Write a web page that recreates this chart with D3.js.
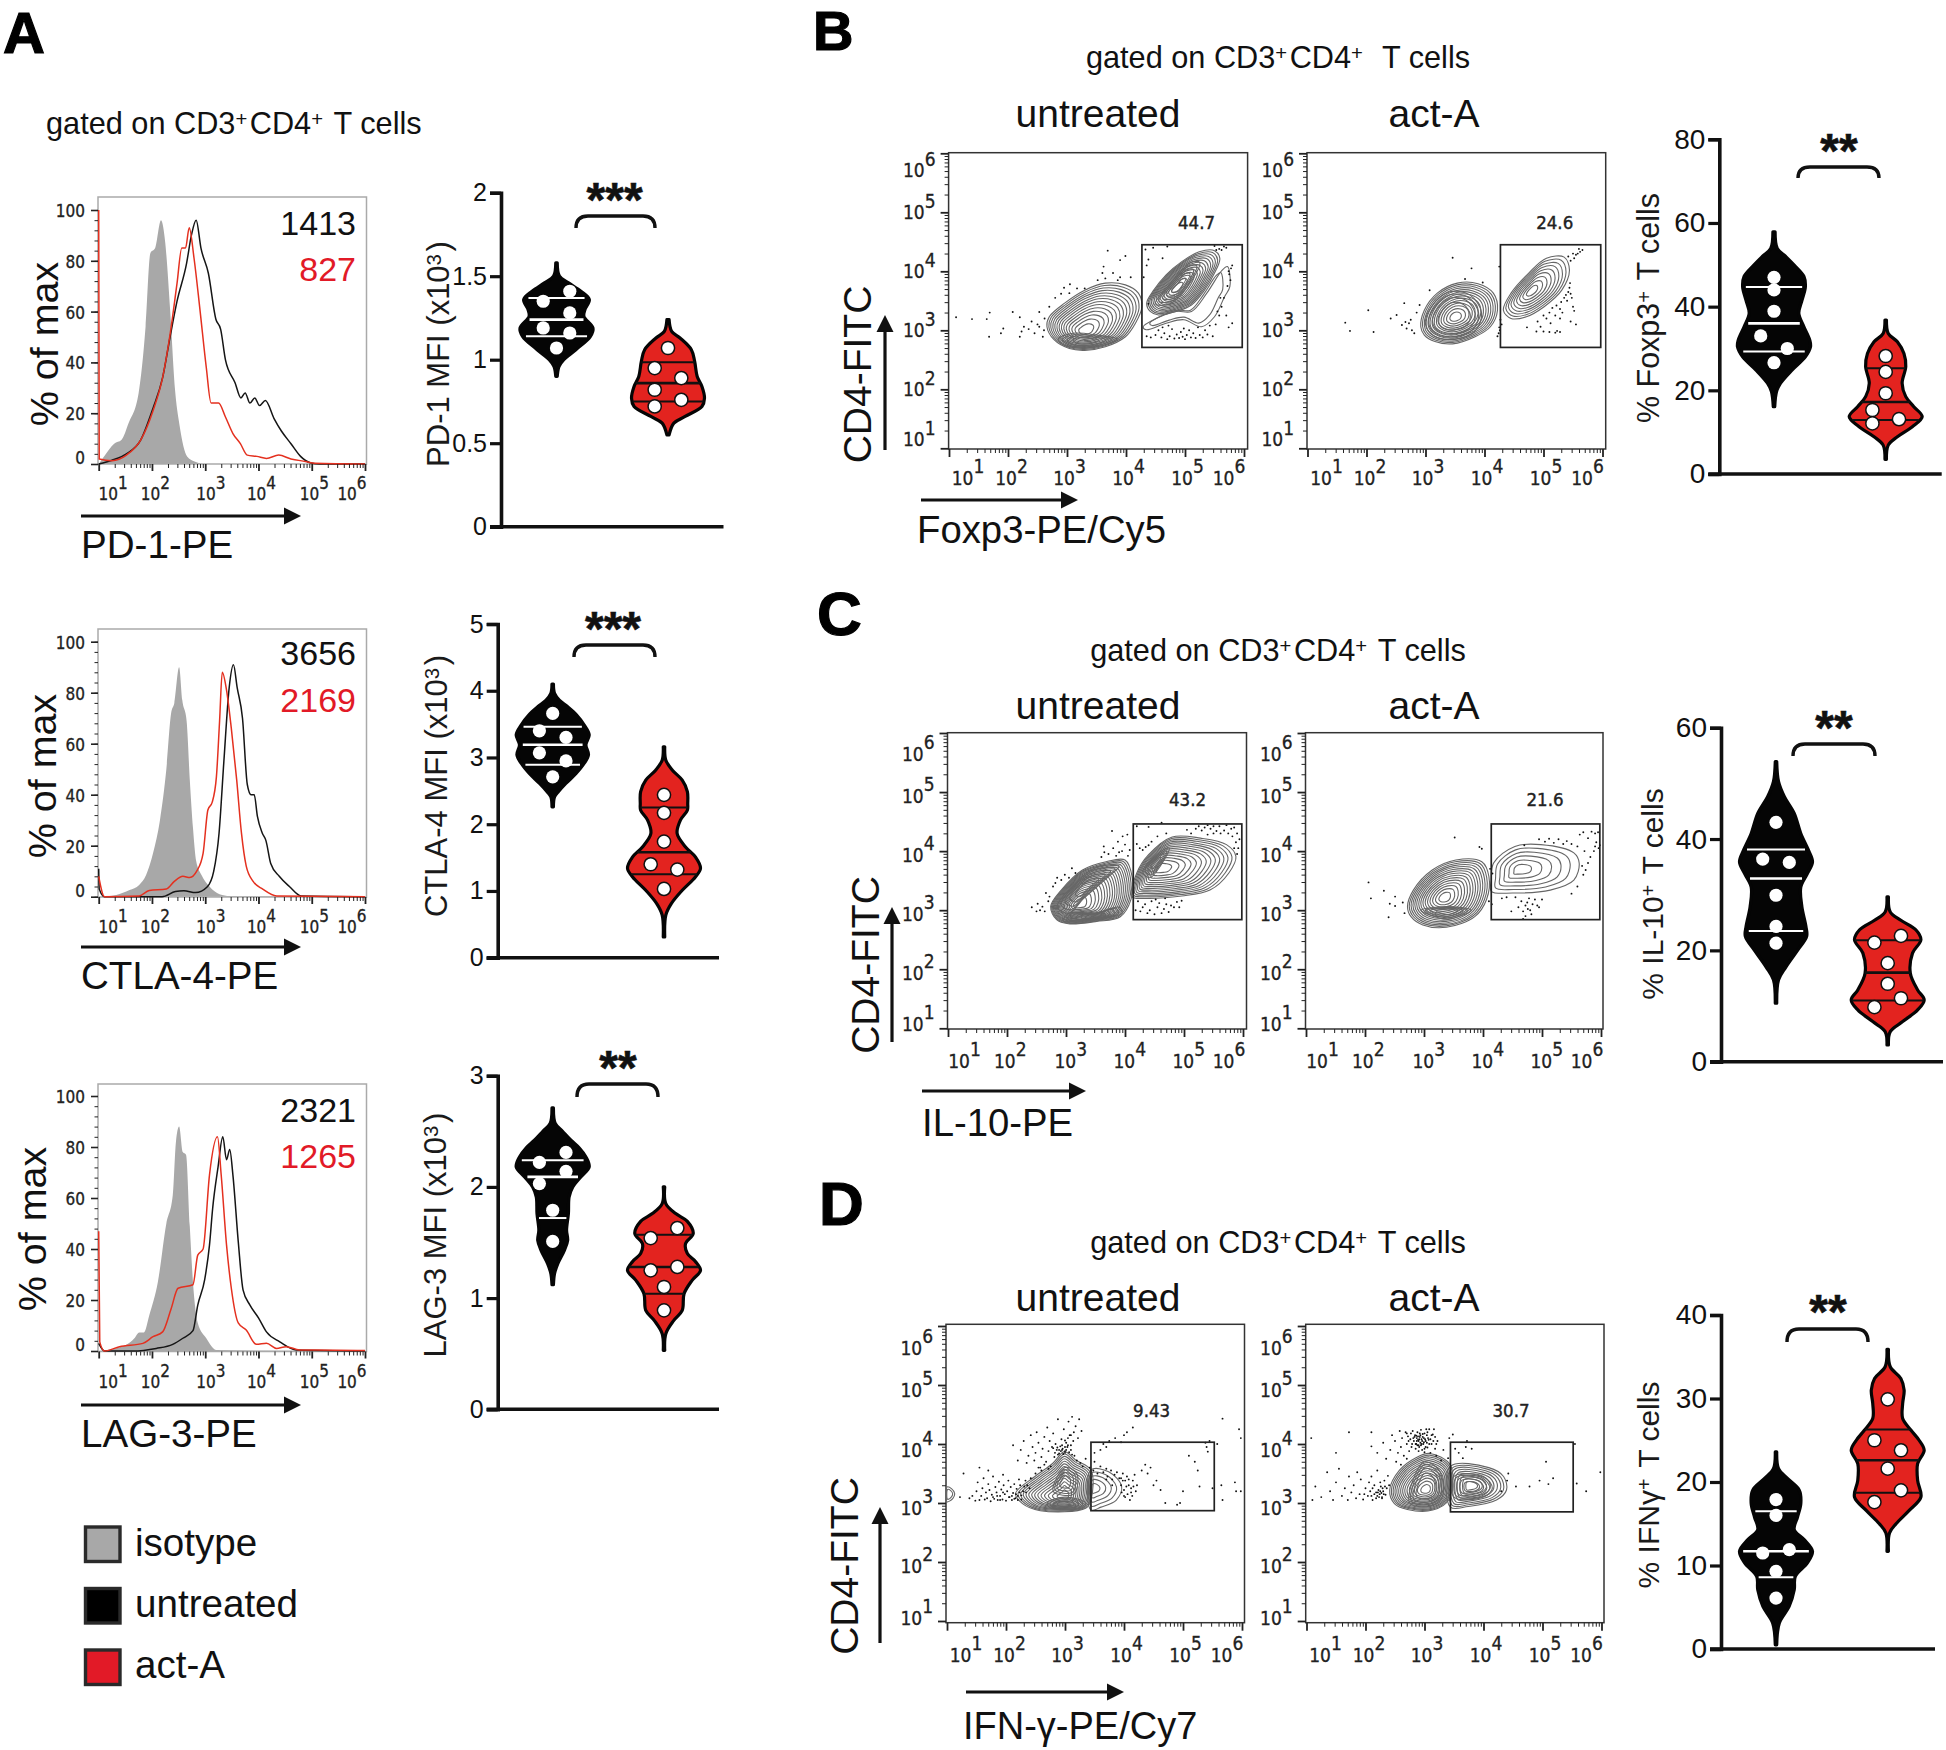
<!DOCTYPE html>
<html><head><meta charset="utf-8">
<script src="https://cdn.jsdelivr.net/npm/d3@7/dist/d3.min.js"></script>
<style>html,body{margin:0;padding:0;background:#fff}svg{display:block}text{font-family:"Liberation Sans",Arial,sans-serif}</style>
</head><body><svg id="fig" width="1946" height="1750"></svg>
<script>
// ---------- histogram data: [log10 fluorescence, % of max] ----------
const pd1Isotype=[[1,0],[1.1,3],[1.29,8],[1.43,9.5],[1.56,16],[1.75,28],[1.88,54],[1.97,83],[2.06,85],[2.17,96],[2.25,87],[2.34,61],[2.43,30],[2.52,15],[2.66,3],[2.8,1],[3,0],[6,0]];
const pd1Untreated=[[1,0],[1.25,1.5],[1.52,4],[1.79,9.5],[2.02,22],[2.2,34],[2.34,50],[2.47,64],[2.65,79],[2.74,90],[2.83,96],[2.92,85],[3.06,75],[3.2,57],[3.29,53],[3.38,41],[3.56,32],[3.67,26],[3.75,28],[3.84,24],[3.93,26],[4.02,23],[4.13,25],[4.29,18],[4.43,13],[4.61,8],[4.79,3],[4.97,.5],[5.15,0],[6,0]];
const pd1ActA=[[1,100],[1.01,2],[1.25,1.3],[1.52,3.5],[1.79,9.5],[2.02,21],[2.2,34],[2.34,51],[2.47,71],[2.56,85],[2.63,85],[2.7,93],[2.79,81],[2.9,61],[3.02,38],[3.11,24],[3.25,24],[3.38,18.5],[3.52,12],[3.66,8],[3.79,3.5],[3.97,3],[4.15,2.2],[4.38,3.5],[4.61,2],[4.88,1],[5.06,.3],[6,0]];
const ctla4Isotype=[[1,0],[1.33,.7],[1.58,2.6],[1.76,4.6],[1.89,8.5],[2.02,17],[2.15,30],[2.27,50],[2.36,72],[2.42,76],[2.51,90],[2.57,77],[2.65,69],[2.71,46],[2.77,27],[2.83,14],[2.93,8.5],[3.08,4],[3.27,1],[3.46,.3],[6,0]];
const ctla4Untreated=[[1,11],[1.01,3],[1.11,0],[2.19,0],[2.44,2],[2.6,2.3],[2.82,1.6],[3.04,3.9],[3.16,10],[3.26,25],[3.35,53],[3.45,82],[3.53,91],[3.6,82],[3.7,70],[3.79,44],[3.86,40],[3.92,40],[3.98,31.5],[4.07,25],[4.14,22],[4.23,13],[4.39,8],[4.58,4],[4.8,.3],[6,0]];
const ctla4ActA=[[1,8],[1.11,0],[1.76,.3],[1.95,2.4],[2.27,3],[2.42,6],[2.58,8],[2.71,7.5],[2.84,10],[2.96,17],[3.05,34],[3.13,37],[3.21,47],[3.27,69],[3.32,88],[3.4,81],[3.49,66],[3.59,46],[3.68,25],[3.77,12],[3.9,6],[4.08,3],[4.34,.3],[6,0]];
const lag3Isotype=[[1,0],[1.51,2.4],[1.67,5],[1.76,7.3],[1.85,7.3],[1.95,14],[2.11,27],[2.27,50],[2.39,61],[2.45,82],[2.51,88],[2.58,78],[2.64,77],[2.71,49],[2.77,27],[2.86,11],[3.02,5],[3.21,.4],[6,0]];
const lag3Untreated=[[1,3],[1.11,0],[1.64,0],[2.08,1],[2.39,2.6],[2.58,5],[2.77,8],[2.86,18],[2.99,28],[3.08,41.5],[3.14,56],[3.24,72],[3.33,84],[3.4,75],[3.46,79],[3.52,69],[3.62,43],[3.71,24],[3.84,18],[4,13],[4.15,7.5],[4.4,3.6],[4.71,.4],[6,0]];
const lag3ActA=[[1,47],[1.02,3.6],[1.11,0],[1.39,1.7],[1.83,3],[2.02,5.6],[2.2,7.5],[2.36,16.6],[2.49,24.6],[2.77,26],[2.86,37.6],[2.96,40],[3.08,69],[3.23,84],[3.3,69],[3.4,41.6],[3.49,24.6],[3.62,11],[3.77,8.2],[3.96,2.6],[4.15,3],[4.34,1],[4.52,1.7],[4.77,.4],[5.09,.4],[6,.2]];
const histYTicks=[0,20,40,60,80,100];
const histMinorY=d3.range(0,101,4);
const decadeValues=[1,2,3,4,5,6];
const mfiLabels=[["1413","827"],["3656","2169"],["2321","1265"]];
const legendLabels=["isotype","untreated","act-A"];

// ---------- violin data: profile = [value, relative density]; quart = quartile values; pts = [value, side] ----------
const pd1UntProfile=[[1.58,.02],[1.5,.08],[1.46,.33],[1.41,.67],[1.36,.9],[1.3,.78],[1.26,.75],[1.19,1],[1.14,.93],[1.06,.53],[1,.2],[.96,.07],[.9,.02]];
const pd1UntQuart=[1.37,1.24,1.14];
const pd1UntPts=[[1.41,1],[1.35,-1],[1.28,1],[1.19,-1],[1.16,1],[1.07,0]];
const pd1ActProfile=[[1.24,.03],[1.17,.1],[1.13,.33],[1.06,.64],[.99,.73],[.9,.8],[.84,.93],[.77,1],[.72,.93],[.66,.47],[.62,.16],[.55,.03]];
const pd1ActQuart=[.985,.86,.75];
const pd1ActPts=[[1.07,0],[.95,-1],[.89,1],[.82,-1],[.76,1],[.72,-1]];
const ctlaUntProfile=[[4.1,.02],[3.96,.05],[3.86,.18],[3.76,.41],[3.64,.65],[3.49,.86],[3.34,1],[3.19,.91],[3.04,.98],[2.91,.86],[2.76,.64],[2.61,.36],[2.49,.16],[2.41,.05],[2.26,.02]];
const ctlaUntQuart=[3.46,3.19,2.89];
const ctlaUntPts=[[3.66,0],[3.4,-1],[3.3,1],[3.07,-1],[2.95,1],[2.71,0]];
const ctlaActProfile=[[3.16,.02],[2.96,.05],[2.81,.23],[2.66,.5],[2.49,.64],[2.31,.65],[2.21,.64],[2.06,.45],[1.86,.36],[1.66,.59],[1.51,.86],[1.34,1],[1.21,.86],[1.01,.5],[.81,.2],[.64,.05],[.31,.02]];
const ctlaActQuart=[2.25,1.58,1.25];
const ctlaActPts=[[2.44,0],[2.17,0],[1.74,0],[1.4,-1],[1.32,1],[1.03,0]];
const lagUntProfile=[[2.71,.02],[2.57,.07],[2.5,.27],[2.42,.5],[2.35,.73],[2.27,.91],[2.18,1],[2.09,.77],[2,.55],[1.91,.45],[1.76,.43],[1.61,.38],[1.52,.41],[1.43,.32],[1.31,.14],[1.22,.05],[1.12,.02]];
const lagUntQuart=[2.24,2.09,1.72];
const lagUntPts=[[2.31,1],[2.22,-1],[2.14,1],[2.03,-1],[1.79,0],[1.51,0]];
const lagActProfile=[[2,.02],[1.85,.05],[1.76,.32],[1.69,.64],[1.58,.8],[1.49,.59],[1.4,.64],[1.33,.86],[1.25,1],[1.16,.77],[1.04,.55],[.89,.5],[.8,.27],[.68,.05],[.53,.02]];
const lagActQuart=[1.57,1.28,1.04];
const lagActPts=[[1.63,1],[1.54,-1],[1.28,1],[1.25,-1],[1.1,0],[.89,0]];
const foxUntProfile=[[57.9,.03],[53.9,.09],[52,.32],[49.6,.59],[47.2,.82],[44.8,.86],[41.6,.77],[38.4,.68],[35.2,.82],[32,.98],[30.4,1],[28,.86],[24.9,.5],[21.7,.18],[19.7,.07],[16.1,.02]];
const foxUntQuart=[44.7,36,29.3];
const foxUntPts=[[47,0],[44,0],[38.9,0],[33,-1],[30,1],[26.6,0]];
const foxActProfile=[[36.8,.02],[33.6,.07],[31.6,.32],[28.8,.5],[25.7,.55],[21.7,.45],[18.5,.55],[16.1,.77],[13.7,1],[11.3,.73],[8.9,.32],[6.9,.07],[3.5,.02]];
const foxActQuart=[25.3,17.2,12.9];
const foxActPts=[[28.2,0],[24.4,0],[19.3,0],[15.3,-1],[13.1,1],[12.1,-1]];
const il10UntProfile=[[53.9,.02],[50.3,.07],[47.6,.23],[44.6,.5],[41,.68],[38,.89],[35.9,1],[33.8,.86],[31.4,.68],[27.8,.71],[24.3,.82],[22.5,.84],[20,.59],[17,.27],[14.7,.07],[10.5,.02]];
const il10UntQuart=[38.1,32.9,23.5];
const il10UntPts=[[43,0],[36.4,-1],[35.8,1],[29.9,0],[24.3,0],[21.3,0]];
const il10ActProfile=[[29.6,.02],[26.9,.07],[25.4,.36],[23.7,.77],[21.9,.91],[19.5,.68],[15.9,.62],[12.9,.82],[11.1,1],[9.3,.82],[7.2,.41],[5.4,.07],[3,.02]];
const il10ActQuart=[21.8,16,11];
const il10ActPts=[[22.6,1],[21.4,-1],[17.7,0],[14,0],[11.4,1],[9.8,-1]];
const ifnUntProfile=[[23.6,.02],[21.6,.07],[20.4,.32],[19,.64],[17.4,.68],[15.8,.59],[14.3,.5],[13.1,.77],[11.7,1],[10.3,.86],[8.7,.53],[7.1,.5],[5.1,.36],[3.1,.09],[.5,.02]];
const ifnUntQuart=[16.5,11.7,8.6];
const ifnUntPts=[[17.9,0],[16,0],[11.9,1],[11.5,-1],[9.3,0],[6.1,0]];
const ifnActProfile=[[35.9,.02],[33.8,.07],[32.4,.36],[31,.45],[29.4,.41],[27.6,.41],[26.2,.64],[25,.86],[23.8,1],[22.2,.82],[20.2,.82],[18.2,.91],[16.6,.59],[15,.23],[13.9,.05],[11.7,.02]];
const ifnActQuart=[26.3,22.6,18.7];
const ifnActPts=[[29.9,0],[25,-1],[23.8,1],[21.6,0],[19,1],[17.6,-1]];
const groups=["untreated","act-A"];

// ---------- flow data (log10 units): contour outlines, gates, event dots ----------
const foxUntMain=[[2.66,3.06],[2.7,3.23],[2.96,3.46],[3.3,3.68],[3.65,3.8],[3.99,3.77],[4.21,3.63],[4.27,3.4],[4.16,3.12],[3.99,2.89],[3.65,2.72],[3.3,2.66],[3.04,2.69],[2.78,2.84]];
const foxUntBand=[[2.85,2.85],[3.1,2.95],[3.5,2.92],[3.85,2.85],[3.6,2.74],[3.2,2.7],[2.95,2.75]];
const foxUntCore=[[4.35,3.46],[4.47,3.68],[4.68,3.94],[4.94,4.16],[5.24,4.33],[5.5,4.35],[5.59,4.22],[5.5,3.97],[5.33,3.68],[5.11,3.43],[4.85,3.32],[4.55,3.26],[4.41,3.32]];
const foxUntRidge=[[4.5,3.45],[4.8,3.85],[5.1,4.15],[5.25,4.15],[5.05,3.75],[4.75,3.45]];
const foxUntTail=[[4.29,3.06],[4.51,3.2],[4.85,3.32],[5.11,3.32],[5.37,3.63],[5.63,4.02],[5.72,4.08],[5.76,3.74],[5.67,3.57],[5.5,3.23],[5.28,3.06],[4.98,3.18],[4.68,3.12],[4.34,3.01]];
const foxActMain=[[2.92,3.06],[2.98,3.34],[3.2,3.63],[3.54,3.8],[3.89,3.79],[4.15,3.63],[4.22,3.34],[4.1,3.06],[3.84,2.89],[3.46,2.77],[3.16,2.81],[2.98,2.92]];
const foxActRing=[[3,3.1],[3.1,3.4],[3.4,3.65],[3.75,3.6],[3.95,3.3],[3.85,3],[3.5,2.85],[3.15,2.9]];
const foxActCore=[[4.32,3.34],[4.45,3.63],[4.75,3.97],[5.05,4.22],[5.35,4.24],[5.44,4.02],[5.31,3.68],[5.01,3.4],[4.71,3.23],[4.45,3.2]];
const il10UntMain=[[2.74,3.06],[2.92,3.34],[3.28,3.68],[3.68,3.82],[4,3.85],[4.12,3.57],[4.1,3.18],[3.92,2.89],[3.52,2.81],[3.04,2.77],[2.84,2.84]];
const il10UntDiag=[[2.85,3.05],[3.1,3.4],[3.5,3.72],[3.9,3.75],[3.7,3.55],[3.3,3.2],[3.05,2.95]];
const il10UntBand=[[2.95,2.82],[3.5,2.84],[3.95,2.95],[3.9,3.05],[3.5,2.95],[3.05,2.95]];
const il10UntCore=[[4.12,3.23],[4.2,3.63],[4.4,3.94],[4.8,4.24],[5.28,4.22],[5.72,4.11],[5.88,3.91],[5.76,3.63],[5.44,3.34],[4.96,3.24],[4.32,3.2]];
const il10UntRidge=[[4.3,3.65],[4.55,3.95],[4.75,4.05],[4.6,3.75],[4.42,3.55]];
const il10ActMain=[[2.72,3.06],[2.82,3.34],[3.14,3.68],[3.54,3.85],[3.98,3.82],[4.1,3.57],[4.06,3.18],[3.86,2.89],[3.38,2.71],[2.98,2.75],[2.78,2.89]];
const il10ActBand=[[2.95,3],[3.4,2.85],[3.8,3],[3.6,3.05],[3.2,3.05]];
const il10ActCore=[[4.14,3.51],[4.18,3.8],[4.54,4.08],[4.98,4.11],[5.54,3.97],[5.63,3.8],[5.54,3.51],[5.14,3.34],[4.5,3.29],[4.14,3.32]];
const ifnUntMain=[[2.16,3.16],[2.49,3.45],[2.79,3.67],[2.99,3.87],[3.18,3.73],[3.44,3.56],[3.44,3.05],[3.35,2.91],[2.58,2.87],[2.28,2.99]];
const ifnUntBand=[[2.7,3],[3,3.1],[3.35,3],[3.3,2.92],[2.75,2.92]];
const ifnUntUpper=[[2.8,3.2],[3,3.6],[3.2,3.5],[3.15,3.15]];
const ifnUntLobe=[[3.44,3.56],[3.74,3.53],[3.96,3.28],[3.87,3.05],[3.61,2.93],[3.44,2.88]];
const ifnUntEdge=[[1,3.02],[1.1,3.08],[1.13,3.16],[1.08,3.24],[1,3.27]];
const ifnActMain=[[2.41,3.22],[2.58,3.56],[2.84,3.76],[3.09,3.84],[3.44,3.64],[3.41,3.05],[3.14,2.88],[2.71,2.89],[2.49,2.99]];
const ifnActRing=[[2.75,3],[2.85,3.5],[3,3.7],[3.25,3.55],[3.3,3.1],[3.1,2.95]];
const ifnActLobe=[[3.44,3.62],[4.09,3.6],[4.34,3.45],[4.39,3.22],[4.22,3.05],[3.74,2.94],[3.44,2.93]];
const ifnActLobeCore=[[3.5,3.1],[3.5,3.45],[4,3.45],[4.15,3.25],[4,3.1]];
const foxUntGate=[4.27,5.97,2.71,4.45], foxActGate=[4.27,5.97,2.71,4.45];
const il10UntGate=[4.14,5.98,2.84,4.46], il10ActGate=[4.14,5.98,2.84,4.46];
const ifnUntGate=[3.44,5.53,2.87,4.03], ifnActGate=[3.44,5.52,2.85,4.03];
const gatePercents=[["44.7","24.6"],["43.2","21.6"],["9.43","30.7"]];
const foxUntDots=[[1.12,3.22],[1.39,3.19],[1.64,3.19],[1.69,3.3],[2.08,3.31],[1.68,2.89],[1.88,2.95],[1.92,3.03],[2.2,3.22],[2.27,3.06],[2.23,2.98],[2.2,2.89],[2.4,3.15],[2.53,3.31],[2.53,3.06],[2.61,3],[2.59,2.89],[2.45,2.95],[2.5,3.1],[2.35,3.02],[2.62,3.2],[2.7,3.4],[2.8,3.55],[2.9,3.62],[2.95,3.72],[3.05,3.78],[3.69,4.35],[3.99,4.26],[3.9,4.19],[3.62,4.08],[3.6,3.97],[3.78,3.97],[3.9,3.9],[4.08,3.9],[3.52,3.85],[3.65,3.88],[3.86,3.85],[3.3,3.71],[3.17,3.71],[3.04,3.63],[4.35,2.9],[4.42,2.88],[4.5,2.92],[4.55,3],[4.6,2.88],[4.65,2.95],[4.7,2.85],[4.74,2.9],[4.78,3.02],[4.82,2.86],[4.86,2.93],[4.9,2.87],[4.93,2.97],[4.96,2.89],[5,2.85],[5.03,2.92],[5.07,3],[5.1,2.88],[5.14,2.95],[5.18,2.87],[5.22,3.05],[5.25,2.92],[5.3,2.88],[5.34,3],[5.38,2.93],[5.42,3.08],[5.47,2.9],[5.52,3.1],[4.62,3.05],[4.72,3.08],[4.98,3.03],[5.58,3.25],[5.62,3.4],[5.55,3.32],[5.66,3.55],[5.7,3.25],[5.74,3.05],[5.8,3.12],[5.6,3.55],[5.72,3.75],[5.75,3.95],[5.78,4.05],[5.74,4],[5.77,3.85],[5.8,4.1],[4.33,4.37],[4.46,4.4],[4.38,4.2],[4.35,4.1],[4.7,4.42],[5.5,4.43],[5.58,4.38],[5.66,4.42],[5.7,4.4],[5.62,4.36],[5.53,4.36],[4.62,4.22],[4.38,3.45],[4.3,3.9]];
const foxActDots=[[1.64,3.13],[1.72,2.99],[2.03,3.34],[2.12,2.97],[2.41,3.2],[2.51,3.26],[2.6,3.09],[2.68,3.03],[2.77,3],[2.81,2.95],[2.64,3.46],[2.9,3.43],[3.07,3.68],[3.46,4.23],[3.78,4.05],[3.67,3.87],[3.97,3.81],[4.25,4.08],[2.72,3.12],[2.85,3.3],[2.75,3.18],[2.66,3.14],[4.22,2.9],[4.24,2.95],[4.25,3.05],[4.27,3.18],[4.29,3.1],[4.26,3],[4.72,3.05],[4.88,2.98],[5,2.98],[5.1,2.97],[5.2,2.96],[5.23,2.99],[5.28,2.97],[4.95,3.06],[5.12,3.12],[5.28,3.2],[5.32,3.3],[5.46,3.15],[5.2,3.25],[5.1,3.3],[5.05,3.2],[5.15,3.38],[5.22,3.42],[5.3,3.48],[5.35,3.55],[5.38,3.6],[5.42,3.65],[5.44,3.72],[5.45,3.8],[5.4,3.5],[5.48,3.55],[5.46,3.62],[5.28,3.36],[5.5,3.4],[5.52,3.33],[5.55,3.1],[5,3.25],[4.9,3.15],[5.42,4.25],[5.5,4.3],[5.55,4.28],[5.62,4.33],[5.66,4.36],[5.6,4.38],[5.52,4.22],[5.46,4.18],[5.58,4.3]];
const il10UntDots=[[2.42,3.05],[2.52,3.11],[2.56,3],[2.64,2.98],[2.6,3.06],[2.66,3.29],[2.72,3.23],[2.82,3.46],[2.92,3.51],[3.1,3.71],[3.16,3.63],[2.5,2.98],[2.78,3.4],[2.7,3.15],[2.85,3.55],[2.98,3.6],[3.05,3.55],[3.78,4.34],[3.64,4.08],[3.8,4.05],[3.88,4.16],[3.96,4.25],[4.04,4.28],[4,4.11],[4.08,4.02],[3.72,3.95],[3.85,3.92],[3.9,3.98],[3.95,4],[4.05,3.92],[3.6,3.9],[3.65,3.98],[4.2,4.42],[4.4,4.41],[4.62,4.48],[4.55,4.25],[4.2,4.12],[4.25,4.05],[4.3,4.02],[4.35,4.07],[4.4,4.1],[4.45,4.16],[4.7,4.3],[5.05,4.36],[5.2,4.38],[5.25,4.42],[5.3,4.35],[5.35,4.4],[5.4,4.44],[5.45,4.38],[5.5,4.42],[5.55,4.34],[5.6,4.42],[5.62,4.3],[5.68,4.35],[5.72,4.44],[5.75,4.3],[5.8,4.38],[5.85,4.4],[5.82,4.25],[5.88,4.15],[5.9,4.3],[5.92,4.05],[5.85,4.05],[5.9,3.95],[5.94,4.2],[5.12,4.3],[5.4,4.28],[5.5,4.3],[4.18,3],[4.22,3.15],[4.26,2.98],[4.3,3.05],[4.34,3.1],[4.38,2.95],[4.42,3],[4.45,3.15],[4.5,2.93],[4.55,3.05],[4.58,3.12],[4.62,2.95],[4.66,3.02],[4.7,3.1],[4.74,2.97],[4.78,3.08],[4.83,3.05],[4.88,3.14],[4.92,3.05],[4.96,3.16],[4.68,3.2],[4.52,3.18]];
const il10ActDots=[[2.06,3.47],[2.1,3.2],[2.32,3.33],[2.42,3.11],[2.51,3.23],[2.51,3.07],[2.4,2.88],[2.64,3.13],[2.67,2.95],[3.52,4.23],[3.94,4.07],[3.98,4.04],[4.1,3.15],[4.15,3.1],[4.12,3.7],[4.16,3.62],[4.7,4.1],[4.95,4.2],[5.05,4.16],[5.12,4.21],[5.2,4.14],[5.28,4.2],[5.36,4.12],[5.42,4.17],[5.5,4.12],[5.6,4.08],[5.64,4.28],[5.7,4.32],[5.78,4.22],[5.84,4.33],[5.9,4.3],[5.95,4.32],[5.92,4.15],[5.96,4.05],[5.88,4],[5.82,3.9],[5.78,3.8],[5.74,3.68],[5.7,3.6],[5.9,4.08],[5.98,4.1],[5.72,4],[5.68,3.75],[5.6,3.4],[5.5,3.28],[4.32,3.2],[4.4,3.22],[4.48,2.98],[4.6,3.05],[4.65,3.15],[4.68,2.98],[4.72,3.08],[4.75,3.13],[4.78,3.2],[4.8,3],[4.84,3.1],[4.88,3.18],[4.92,3.08],[4.95,3.05],[4.72,2.9],[4.68,2.85],[4.76,3.02],[4.82,2.93],[4.55,3.22],[5,3.18]];
const ifnUntDots=[[1.22,3.1],[1.28,3.5],[1.38,3.08],[1.43,3.12],[1.48,3.04],[1.5,3.2],[1.52,3.35],[1.55,3.05],[1.58,3.12],[1.6,3.25],[1.62,3.42],[1.64,3.06],[1.66,3.18],[1.68,3.08],[1.7,3.32],[1.72,3.22],[1.74,3.03],[1.76,3.14],[1.78,3.45],[1.8,3.07],[1.82,3.27],[1.84,3.18],[1.86,3.05],[1.88,3.36],[1.9,3.12],[1.92,3.23],[1.94,3.06],[1.96,3.3],[1.98,3.15],[2,3.04],[2.02,3.2],[2.04,3.38],[2.06,3.1],[2.08,3.27],[2.1,3.05],[2.12,3.17],[2.14,3.32],[2.16,3.08],[2.18,3.24],[2.2,3.12],[2.22,3.4],[2.24,3.3],[2.26,3.06],[1.7,3.55],[1.95,3.48],[1.55,3.6],[2.12,3.98],[2.2,3.72],[2.25,3.9],[2.3,4.05],[2.35,3.68],[2.38,3.8],[2.42,4.15],[2.45,3.95],[2.48,3.72],[2.5,3.85],[2.52,4.2],[2.55,4.02],[2.58,3.6],[2.6,3.78],[2.62,3.92],[2.65,4.12],[2.68,3.7],[2.7,4.28],[2.72,3.88],[2.74,4.05],[2.76,3.62],[2.78,3.95],[2.8,4.18],[2.82,3.78],[2.84,4],[2.86,3.9],[2.88,4.42],[2.9,3.84],[2.92,3.96],[2.94,4.08],[2.96,3.92],[2.98,4.25],[3,3.88],[3.02,4.02],[3.04,3.95],[3.06,4.38],[3.08,4.15],[3.1,3.98],[3.12,4.46],[3.14,4.05],[3.16,3.8],[3.18,4.3],[3.2,3.72],[3.22,4.1],[3.24,4.42],[3.26,3.68],[3.28,4.22],[3.3,3.62],[3.35,3.75],[2.95,3.98],[2.87,3.94],[2.8,3.93],[3,3.95],[2.9,3.9],[3.05,3.98],[3.1,3.9],[2.95,3.9],[3,3.85],[3.42,3.6],[3.48,3.55],[3.5,3.7],[3.55,3.5],[3.6,3.62],[3.65,3.52],[3.7,3.58],[3.72,3.45],[3.78,3.55],[3.8,3.4],[3.84,3.48],[3.88,3.52],[3.92,3.42],[3.95,3.3],[3.98,3.5],[4,3.22],[4.02,3.38],[4.05,3.45],[4.06,3.15],[4.08,3.3],[4.1,3.05],[4.12,3.25],[4.15,3.38],[4.18,3.48],[4.2,3.2],[4,3.12],[4.04,3.28],[3.96,3.18],[4.14,3.12],[4.22,3.3],[3.5,3.85],[3.6,3.9],[3.65,4],[3.7,3.95],[3.75,4.05],[3.85,4.1],[3.95,4.03],[4,4.15],[4.05,4.2],[4.15,4.28],[4.36,3.65],[4.3,3.55],[4.45,3.6],[4.5,3.3],[4.55,3.38],[4.4,3.5],[5.1,3.8],[5.4,3.95],[5.42,3.87],[5.38,4.02],[5.45,4.05],[5.58,4],[5.2,3.7],[5.25,3.55],[4.62,3.22],[4.7,3],[5,3.2],[5.28,3.28],[5.5,3.25],[4.9,2.97],[4.95,3],[5.65,3.3],[5.67,3.05],[5.88,3.35],[5.9,3.2],[5.98,3.2],[5.95,4.25],[5.98,4.1],[5.67,4.43],[2.05,3.1],[2.1,3.12],[2.14,3.07],[2.17,3.15],[2.2,3.05],[2.23,3.18],[2.26,3.13],[2.29,3.2],[2.31,3.28],[2.34,3.18],[2.36,3.3],[2.4,3.25],[2.33,3.38],[2.42,3.42],[2.5,3.5],[2.55,3.6],[2.6,3.55],[2.65,3.65],[2.72,3.58],[2.83,3.85],[2.88,3.82],[2.93,3.88],[2.97,3.83],[3.02,3.9],[3.07,3.86],[3.12,3.82],[3,4.06],[3.1,4.15],[3.15,4.2],[3.05,4.1],[3.7,3.4],[3.8,3.3],[3.95,3.42],[4.02,3.1],[4.08,3.4],[4.12,3.18],[4.16,3.28],[3.98,3.38],[1.85,3.12],[1.95,3.18],[1.78,3.1],[1.9,3.05]];
const ifnActDots=[[1.1,3.05],[1.15,3.28],[1.25,3.1],[1.35,3.52],[1.4,3.2],[1.45,3.05],[1.5,3.35],[1.55,3.58],[1.6,3.12],[1.65,3.25],[1.7,3.05],[1.72,3.45],[1.76,3.18],[1.8,3.3],[1.84,3.08],[1.86,3.52],[1.9,3.15],[1.92,3.4],[1.96,3.06],[2,3.25],[2.04,3.12],[2.08,3.2],[2.1,3.45],[2.12,3.05],[2.15,3.3],[2.18,3.18],[2.2,3.12],[2.22,3.22],[2.24,3.15],[2.26,3.28],[2.28,3.1],[2.3,3.2],[2.32,3.38],[2.34,3.14],[2.36,3.25],[2.38,3.46],[2.2,3.55],[2.4,3.3],[2.25,3.35],[2.28,3.08],[1.08,4.1],[1.5,3.85],[1.72,4.2],[2.1,4.2],[2.1,3.96],[2.2,3.85],[2.3,4.02],[2.35,3.75],[2.42,3.9],[2.45,4.15],[2.5,4.05],[2.52,3.7],[2.55,3.85],[2.58,4.22],[2.6,3.95],[2.62,4.1],[2.65,3.8],[2.68,4.2],[2.7,4],[2.72,4.13],[2.74,3.88],[2.76,4.08],[2.78,3.95],[2.8,4.22],[2.82,4.05],[2.84,4.15],[2.85,3.92],[2.86,4],[2.87,4.1],[2.88,4.2],[2.9,4.05],[2.91,3.95],[2.92,4.12],[2.93,4.02],[2.94,4.24],[2.95,4.08],[2.96,3.9],[2.97,4.17],[2.98,4],[2.99,4.1],[3,3.86],[3.02,4.05],[3.03,4.25],[3.04,4.15],[3.05,3.94],[3.07,4.07],[3.08,4.25],[3.1,3.85],[3.12,4],[3.14,4.16],[3.16,4.25],[3.18,3.92],[3.2,3.8],[3.22,4.05],[3.28,3.72],[3.32,3.9],[3.4,3.76],[3.42,4.1],[3.48,4.16],[2.83,4.12],[2.89,4.07],[2.95,4],[2.86,4.14],[2.92,4.18],[2.88,3.98],[3.52,3.92],[3.58,3.85],[3.65,3.76],[3.7,3.95],[3.72,4.05],[3.8,3.92],[4.4,3.38],[4.55,3.28],[4.78,3.28],[4.95,3.38],[5.1,3.32],[5.18,3.42],[5.06,3.7],[5.58,3.33],[5.74,3.2],[5.98,3.52],[4.3,3.2],[4.42,3.5],[5.55,4],[2.1,3.12],[2.15,3.15],[2.18,3.08],[2.21,3.18],[2.23,3.1],[2.25,3.2],[2.27,3.17],[2.29,3.25],[2.31,3.15],[2.33,3.28],[2.12,3.25],[2.06,3.35],[1.98,3.15],[2.85,4],[2.87,4.05],[2.89,4.13],[2.9,3.98],[2.91,4.08],[2.93,4.15],[2.94,3.98],[2.96,4.05],[2.97,4.12],[2.99,4.03],[3,4.18],[3.01,4.08],[3.02,3.95],[3.04,4.02],[3.05,4.2],[3.06,4.1],[3.08,4],[2.81,4.1],[2.79,4],[2.77,4.18],[2.73,4.05],[2.7,4.18],[3.1,4.08],[3.12,4.15],[3.15,4.05],[3.18,4.12],[3.2,4],[2.6,3.65],[2.7,3.75],[2.9,3.88],[3,3.92]];

// ---------- layout ----------
const INK="#111", RED="#e3231f", TXTRED="#e21a27", GREY="#a8a8a8";
const NARROW='"Liberation Sans Narrow","DejaVu Sans Condensed","Liberation Sans",sans-serif';
const svg=d3.select("#fig");
const defs=svg.append("defs");
function txt(x,y,s,o={}){const t=svg.append("text").attr("x",x).attr("y",y).attr("font-size",o.size||30).attr("fill",o.fill||INK).attr("text-anchor",o.anchor||"start");
  if(o.weight)t.attr("font-weight",o.weight); if(o.family)t.style("font-family",o.family); if(o.sw)t.attr("stroke",o.fill||INK).attr("stroke-width",o.sw);
  if(o.rotate)t.attr("transform",`rotate(-90 ${x} ${y})`);
  segs(t,s); return t;}
function segs(t,s){(Array.isArray(s)?s:[s]).forEach(p=>{ if(typeof p==="string") t.append("tspan").text(p);
    else { t.append("tspan").attr("dy","-0.38em").attr("font-size","0.66em").text(p.sup); t.append("tspan").attr("dy","0.25em").text("\u200a"); } });}
function arrow(x0,y0,x1,y1,w){const g=svg.append("g");const a=Math.atan2(y1-y0,x1-x0),L=w||17,H=8.5;
  g.append("line").attr("x1",x0).attr("y1",y0).attr("x2",x1-L*Math.cos(a)).attr("y2",y1-L*Math.sin(a)).attr("stroke","#111").attr("stroke-width",3.2);
  const p=(d,s)=>[x1-d*Math.cos(a)-s*Math.sin(a),y1-d*Math.sin(a)+s*Math.cos(a)];
  g.append("polygon").attr("points",[p(0,0),p(L,H),p(L,-H)].join(" ")).attr("fill","#111");}
function logTicks(){const o=[];for(let d=1;d<6;d++)for(let k=2;k<10;k++)o.push(k*Math.pow(10,d));return o;}
const decades=decadeValues.map(d=>Math.pow(10,d));
function styleAxis(g,w){g.select(".domain").remove();g.selectAll("line").attr("stroke","#222").attr("stroke-width",w||1.3);g.selectAll("text").remove();}
function decLabel(x,y,d,anchor,size){const t=svg.append("text").attr("x",x).attr("y",y).attr("font-size",size).attr("text-anchor",anchor||"middle").attr("fill","#222").attr("stroke","#222").attr("stroke-width",.3).style("font-family",NARROW);
  t.append("tspan").text("10");t.append("tspan").attr("dy","-0.62em").text(d);return t;}

// ---------- histograms ----------
const histPanels=[
 {top:197,bottom:464,y0:464,y100:210,iso:pd1Isotype,unt:pd1Untreated,act:pd1ActA,m:mfiLabels[0],my:[235,281]},
 {top:629,bottom:897,y0:896.7,y100:641.7,iso:ctla4Isotype,unt:ctla4Untreated,act:ctla4ActA,m:mfiLabels[1],my:[665,712]},
 {top:1084,bottom:1351.5,y0:1351,y100:1096,iso:lag3Isotype,unt:lag3Untreated,act:lag3ActA,m:mfiLabels[2],my:[1122,1168]}];
const hx=d3.scaleLog().domain([10,1e6]).range([98.7,365]);
const histLabelShift=[14.5,3.5,5.7,3,2.6,-13];
histPanels.forEach(p=>{
 const y=d3.scaleLinear().domain([0,100]).range([p.y0,p.y100]);
 svg.append("rect").attr("x",98).attr("y",p.top).attr("width",268.5).attr("height",p.bottom-p.top).attr("fill","none").attr("stroke","#aaa").attr("stroke-width",1.5);
 const area=d3.area().x(d=>hx(Math.pow(10,d[0]))).y0(y(0)).y1(d=>y(d[1])).curve(d3.curveMonotoneX);
 const line=d3.line().x(d=>hx(Math.pow(10,d[0]))).y(d=>y(d[1])).curve(d3.curveMonotoneX);
 svg.append("path").attr("d",area(p.iso)).attr("fill",GREY);
 svg.append("path").attr("d",line(p.unt)).attr("fill","none").attr("stroke","#151515").attr("stroke-width",1.5);
 svg.append("path").attr("d",line(p.act)).attr("fill","none").attr("stroke","#e4301f").attr("stroke-width",1.5);
 const ax=svg.append("g").attr("transform",`translate(0,${p.bottom})`);
 ax.call(d3.axisBottom(hx).tickValues(decades).tickSize(7));styleAxis(ax,1.8);
 const ax2=svg.append("g").attr("transform",`translate(0,${p.bottom})`);
 ax2.call(d3.axisBottom(hx).tickValues(logTicks()).tickSize(4));styleAxis(ax2,1);
 const ay=svg.append("g").attr("transform","translate(98,0)");
 ay.call(d3.axisLeft(y).tickValues(histYTicks).tickSize(7));styleAxis(ay,1.6);
 const ay2=svg.append("g").attr("transform","translate(98,0)");
 ay2.call(d3.axisLeft(y).tickValues(histMinorY).tickSize(3.5));styleAxis(ay2,1);
 histYTicks.forEach(v=>svg.append("text").attr("x",85).attr("y",y(v)+(v?7:0)).attr("text-anchor","end").attr("font-size",17).attr("fill","#222").attr("stroke","#222").attr("stroke-width",.3).style("font-family",NARROW).text(v));
 decadeValues.forEach((d,i)=>decLabel(hx(Math.pow(10,d))+histLabelShift[i],p.bottom+36,d,"middle",17));
 txt(356,p.my[0],p.m[0],{anchor:"end",size:34,fill:"#111"});
 txt(356,p.my[1],p.m[1],{anchor:"end",size:34,fill:TXTRED});
});
[[58,344],[56,776],[46,1229]].forEach(c=>txt(c[0],c[1],"% of max",{rotate:true,anchor:"middle",size:39.5}));
[[516,"PD-1-PE",558],[947,"CTLA-4-PE",989],[1405,"LAG-3-PE",1447]].forEach(a=>{arrow(81,a[0],301,a[0]);txt(81,a[2],a[1],{size:38.6});});

// ---------- violins ----------
const vPanels=[
 {ax:501,right:723.5,y0:526.7,yTop:192.7,max:2,ticks:[0,.5,1,1.5,2],xU:556.5,xA:668,unt:[pd1UntProfile,pd1UntQuart,pd1UntPts],act:[pd1ActProfile,pd1ActQuart,pd1ActPts],br:[576,655,216,228],st:["***",614.6,188.5],title:["PD-1 MFI (x10",{sup:"3"},")"],tp:[449,354],ts:31,fs:25},
 {ax:497.7,right:719,y0:957.7,yTop:624,max:5,ticks:[0,1,2,3,4,5],xU:552.7,xA:664,unt:[ctlaUntProfile,ctlaUntQuart,ctlaUntPts],act:[ctlaActProfile,ctlaActQuart,ctlaActPts],br:[574,655,645,657],st:["***",613,618],title:["CTLA-4 MFI (x10",{sup:"3"},")"],tp:[447,786],ts:31,fs:25},
 {ax:497.7,right:719,y0:1409.3,yTop:1075.7,max:3,ticks:[0,1,2,3],xU:552.7,xA:664,unt:[lagUntProfile,lagUntQuart,lagUntPts],act:[lagActProfile,lagActQuart,lagActPts],br:[577,658,1084,1097],st:["**",618,1057],title:["LAG-3 MFI (x10",{sup:"3"},")"],tp:[446,1235],ts:31,fs:25},
 {ax:1719.3,right:1941.7,y0:474,yTop:139.3,max:80,ticks:[0,20,40,60,80],xU:1774,xA:1885.7,unt:[foxUntProfile,foxUntQuart,foxUntPts],act:[foxActProfile,foxActQuart,foxActPts],br:[1798,1879,167,178],st:["**",1839,139.5],title:["% Foxp3",{sup:"+"}," T cells"],tp:[1659,308],ts:30.5,fs:28},
 {ax:1721,right:1943,y0:1061.7,yTop:727.7,max:60,ticks:[0,20,40,60],xU:1776,xA:1887.7,unt:[il10UntProfile,il10UntQuart,il10UntPts],act:[il10ActProfile,il10ActQuart,il10ActPts],br:[1793,1875,744,756],st:["**",1834,717],title:["% IL-10",{sup:"+"}," T cells"],tp:[1662.7,894],ts:30,fs:28},
 {ax:1721,right:1935,y0:1649,yTop:1315,max:40,ticks:[0,10,20,30,40],xU:1776,xA:1887.7,unt:[ifnUntProfile,ifnUntQuart,ifnUntPts],act:[ifnActProfile,ifnActQuart,ifnActPts],br:[1787,1868,1329,1342],st:["**",1828,1301],title:["% IFN\u03b3",{sup:"+"}," T cells"],tp:[1659,1485],ts:30,fs:28}];
const hw=d3.scaleLinear().domain([0,1]).range([0,36.5]);
const side=d3.scaleLinear().domain([-1,1]).range([-13.3,13.3]);
function densityAt(profile,v){const s=[...profile].sort((a,b)=>a[0]-b[0]);const i=d3.bisector(d=>d[0]).center(s,v);
  let j=s[i][0]<=v?i:i-1; j=Math.max(0,Math.min(s.length-2,j));const t=(v-s[j][0])/(s[j+1][0]-s[j][0]);return s[j][1]+t*(s[j+1][1]-s[j][1]);}
vPanels.forEach(p=>{
 const y=d3.scaleLinear().domain([0,p.max]).range([p.y0,p.yTop]);
 const gx=d3.scalePoint().domain(groups).range([p.xU,p.xA]);
 const ax=svg.append("g").attr("transform",`translate(${p.ax},0)`).call(d3.axisLeft(y).tickValues(p.ticks).tickSize(11).tickFormat(d=>d));
 ax.select(".domain").attr("stroke","#111").attr("stroke-width",3.6);
 ax.selectAll(".tick line").attr("stroke","#111").attr("stroke-width",3.2);
 ax.selectAll("text").attr("font-size",p.fs).attr("fill","#111").attr("x",-14).style("font-family",'"Liberation Sans",Arial,sans-serif');
 svg.append("line").attr("x1",p.ax-11).attr("x2",p.right).attr("y1",p.y0).attr("y2",p.y0).attr("stroke","#111").attr("stroke-width",3.6);
 [["untreated",p.unt,"#050505","#fff"],["act-A",p.act,RED,"#111"]].forEach(([g,d,fill,q])=>{
  const c=gx(g);
  const area=d3.area().y(e=>y(e[0])).x0(e=>c-hw(e[1])).x1(e=>c+hw(e[1])).curve(d3.curveCatmullRom.alpha(.5));
  svg.append("path").attr("d",area(d[0])).attr("fill",fill).attr("stroke","#050505").attr("stroke-width",3.2).attr("stroke-linejoin","round");
  d[1].forEach((v,i)=>{const w=hw(densityAt(d[0],v))*(g==="untreated"?.9:1);
    svg.append("line").attr("x1",c-w).attr("x2",c+w).attr("y1",y(v)).attr("y2",y(v)).attr("stroke",q).attr("stroke-width",i===1?2.6:2);});
  svg.selectAll(null).data(d[2]).enter().append("circle").attr("cx",e=>c+side(e[1])).attr("cy",e=>y(e[0])).attr("r",6.6).attr("fill","#fff").attr("stroke",g==="untreated"?"none":"#111").attr("stroke-width",1.5);
 });
 const [x0,x1,yt,yb]=p.br;
 svg.append("path").attr("d",`M${x0},${yb} Q${x0},${yt} ${x0+12},${yt} H${x1-12} Q${x1},${yt} ${x1},${yb}`).attr("fill","none").attr("stroke","#111").attr("stroke-width",3.4);
 txt(p.st[1],p.st[2]+27,p.st[0],{anchor:"middle",size:48,weight:"bold",sw:.6});
 txt(p.tp[0],p.tp[1],p.title,{rotate:true,anchor:"middle",size:p.ts,fill:"#1a1a1a"});
});

// ---------- contour plots ----------
const flowRows=[
 {top:153.3,bottom:448.3,boxT:152.7,boxB:449,labelDrop:[-2,7,7,7,7,24],xLab:36,xShift:[19,3.5,2.5,2.5,2.5,-15],
  cols:[{x0:949,box:[948.6,1247.6],gate:foxUntGate,pct:gatePercents[0][0],px:1196.5,dots:foxUntDots,pops:[{o:foxUntMain,c:[3.3,2.98],n:14,p:.7},{o:foxUntBand,c:[3.3,2.82],n:4,p:.6},{o:foxUntCore,c:[4.85,3.71],n:14,p:.7},{o:foxUntRidge,c:[4.9,3.75],n:5,p:.7},{o:foxUntTail,c:[5,3.45],n:2,p:.25}]},
        {x0:1307.5,box:[1307,1605.7],gate:foxActGate,pct:gatePercents[0][1],px:1554.7,dots:foxActDots,pops:[{o:foxActMain,c:[3.5,3.22],n:14,p:.72},{o:foxActRing,c:[3.5,3.22],n:4,p:.4},{o:foxActCore,c:[4.79,3.66],n:9,p:.8}]}],py:229},
 {top:733,bottom:1028.3,boxT:732.7,boxB:1029,labelDrop:[2.3,11,11,11,11,28],xLab:39,xShift:[16.5,3.3,4.7,4.7,4.7,-14],
  cols:[{x0:948,box:[947.5,1246.5],gate:il10UntGate,pct:gatePercents[1][0],px:1187.5,dots:il10UntDots,pops:[{o:il10UntMain,c:[3.2,3.09],n:19,p:.62},{o:il10UntDiag,c:[3.35,3.4],n:5,p:.6},{o:il10UntBand,c:[3.45,2.9],n:5,p:.6},{o:il10UntCore,c:[4.6,3.71],n:14,p:.72},{o:il10UntRidge,c:[4.52,3.8],n:4,p:.7}]},
        {x0:1306,box:[1305.5,1603],gate:il10ActGate,pct:gatePercents[1][1],px:1545,dots:il10ActDots,pops:[{o:il10ActMain,c:[3.34,3.21],n:15,p:.72},{o:il10ActBand,c:[3.4,2.98],n:4,p:.6},{o:il10ActCore,c:[4.62,3.69],n:6,p:.9}]}],py:806},
 {top:1326,bottom:1621,boxT:1324.3,boxB:1622.7,labelDrop:[4,11,12,13,12,29],xLab:39,xShift:[19,3.5,2.5,2.5,2.5,-15],
  cols:[{x0:947,box:[946,1244.5],gate:ifnUntGate,pct:gatePercents[2][0],px:1151.6,dots:ifnUntDots,pops:[{o:ifnUntMain,c:[2.99,3.11],n:14,p:.72},{o:ifnUntBand,c:[3,2.98],n:4,p:.6},{o:ifnUntUpper,c:[3,3.35],n:4,p:.6},{o:ifnUntLobe,c:[3.48,3.25],n:5,p:.9},{o:ifnUntEdge,c:[1.03,3.15],n:2,p:.6}]},
        {x0:1306.5,box:[1305.7,1604],gate:ifnActGate,pct:gatePercents[2][1],px:1511,dots:ifnActDots,pops:[{o:ifnActMain,c:[3.03,3.22],n:15,p:.7},{o:ifnActRing,c:[3.03,3.25],n:4,p:.4},{o:ifnActLobe,c:[3.78,3.29],n:9,p:.75},{o:ifnActLobeCore,c:[3.8,3.28],n:5,p:.6}]}],py:1416.7}];
let clipIdx=0;
flowRows.forEach(r=>{
 r.cols.forEach(col=>{
  const x=d3.scaleLog().domain([10,1e6]).range([col.x0,col.x0+295]);
  const y=d3.scaleLog().domain([10,1e6]).range([r.bottom,r.top]);
  const X=l=>x(Math.pow(10,l)),Y=l=>y(Math.pow(10,l));
  const cid="box"+(clipIdx++);
  defs.append("clipPath").attr("id",cid).append("rect").attr("x",col.box[0]).attr("y",r.boxT).attr("width",col.box[1]-col.box[0]).attr("height",r.boxB-r.boxT);
  svg.append("rect").attr("x",col.box[0]).attr("y",r.boxT).attr("width",col.box[1]-col.box[0]).attr("height",r.boxB-r.boxT).attr("fill","#fff").attr("stroke","#333").attr("stroke-width",1.5);
  const cg=svg.append("g").attr("clip-path",`url(#${cid})`);
  const ln=d3.line().x(d=>X(d[0])).y(d=>Y(d[1])).curve(d3.curveCatmullRomClosed.alpha(.5));
  col.pops.forEach(pop=>{for(let k=pop.n;k>=1;k--){const f=Math.pow(k/pop.n,pop.p);
    const pts=pop.o.map(d=>[pop.c[0]+(d[0]-pop.c[0])*f,pop.c[1]+(d[1]-pop.c[1])*f]);
    cg.append("path").attr("d",ln(pts)).attr("fill","none").attr("stroke","#666").attr("stroke-width",1.1);}});
  cg.selectAll(null).data(col.dots).enter().append("circle").attr("cx",d=>X(d[0])).attr("cy",d=>Y(d[1])).attr("r",.95).attr("fill","#111");
  const g=col.gate;
  svg.append("rect").attr("x",X(g[0])).attr("y",Y(g[3])).attr("width",X(g[1])-X(g[0])).attr("height",Y(g[2])-Y(g[3])).attr("fill","none").attr("stroke","#222").attr("stroke-width",1.7);
  txt(col.px,r.py,col.pct,{anchor:"middle",size:18.5,family:NARROW,fill:"#222",sw:.4});
  [[decades,8,1.8],[logTicks(),4,1]].forEach(([v,s,w])=>{
    const ax=svg.append("g").attr("transform",`translate(0,${r.boxB})`).call(d3.axisBottom(x).tickValues(v).tickSize(s));styleAxis(ax,w);
    const ay=svg.append("g").attr("transform",`translate(${col.box[0]},0)`).call(d3.axisLeft(y).tickValues(v).tickSize(s));styleAxis(ay,w);});
  decadeValues.forEach((d,i)=>{decLabel(X(d)+r.xShift[i],r.boxB+r.xLab,d,"middle",19);
    decLabel(col.box[0]-13,Y(d)+r.labelDrop[i],d,"end",19);});
 });
});

// ---------- titles ----------
const gated=["gated on CD3",{sup:"+"},"CD4",{sup:"+"}," T cells"];
txt(46,134,gated,{size:30.7});
txt(1278,68,["gated on CD3",{sup:"+"},"CD4",{sup:"+"},"\u00a0 T cells"],{size:30.7,anchor:"middle"});
txt(1278,661,gated,{size:30.7,anchor:"middle"});
txt(1278,1253,gated,{size:30.7,anchor:"middle"});
[126.5,718.5,1310.5].forEach(y=>{txt(1098,y,groups[0],{size:39,anchor:"middle"});txt(1434,y,groups[1],{size:39,anchor:"middle"});});
[["A",3,53,58],["B",813,50,56],["C",817,635,62],["D",819,1225,62]].forEach(l=>txt(l[1],l[2],l[0],{size:l[3],weight:"bold",fill:"#000",sw:1.2}));
arrow(921,500,1078,500);txt(917,543,"Foxp3-PE/Cy5",{size:38.3});
arrow(922,1091,1086,1091);txt(922,1136,"IL-10-PE",{size:38.3});
arrow(966,1692,1124,1692);txt(963,1739,"IFN-\u03b3-PE/Cy7",{size:38});
arrow(885,450,885,315);txt(871,374.5,"CD4-FITC",{size:39,rotate:true,anchor:"middle"});
arrow(892,1042,892,907);txt(879,965,"CD4-FITC",{size:39,rotate:true,anchor:"middle"});
arrow(880,1643,880,1507);txt(858,1566,"CD4-FITC",{size:39,rotate:true,anchor:"middle"});

// ---------- legend ----------
[[1527,GREY,1556],[1588.5,"#000",1617],[1650,TXTRED,1678]].forEach((l,i)=>{
 svg.append("rect").attr("x",85.5).attr("y",l[0]).attr("width",34.5).attr("height",34.5).attr("fill",l[1]).attr("stroke","#2a2a2a").attr("stroke-width",3.4);
 txt(135,l[2],legendLabels[i],{size:38.6});});
</script></body></html>
